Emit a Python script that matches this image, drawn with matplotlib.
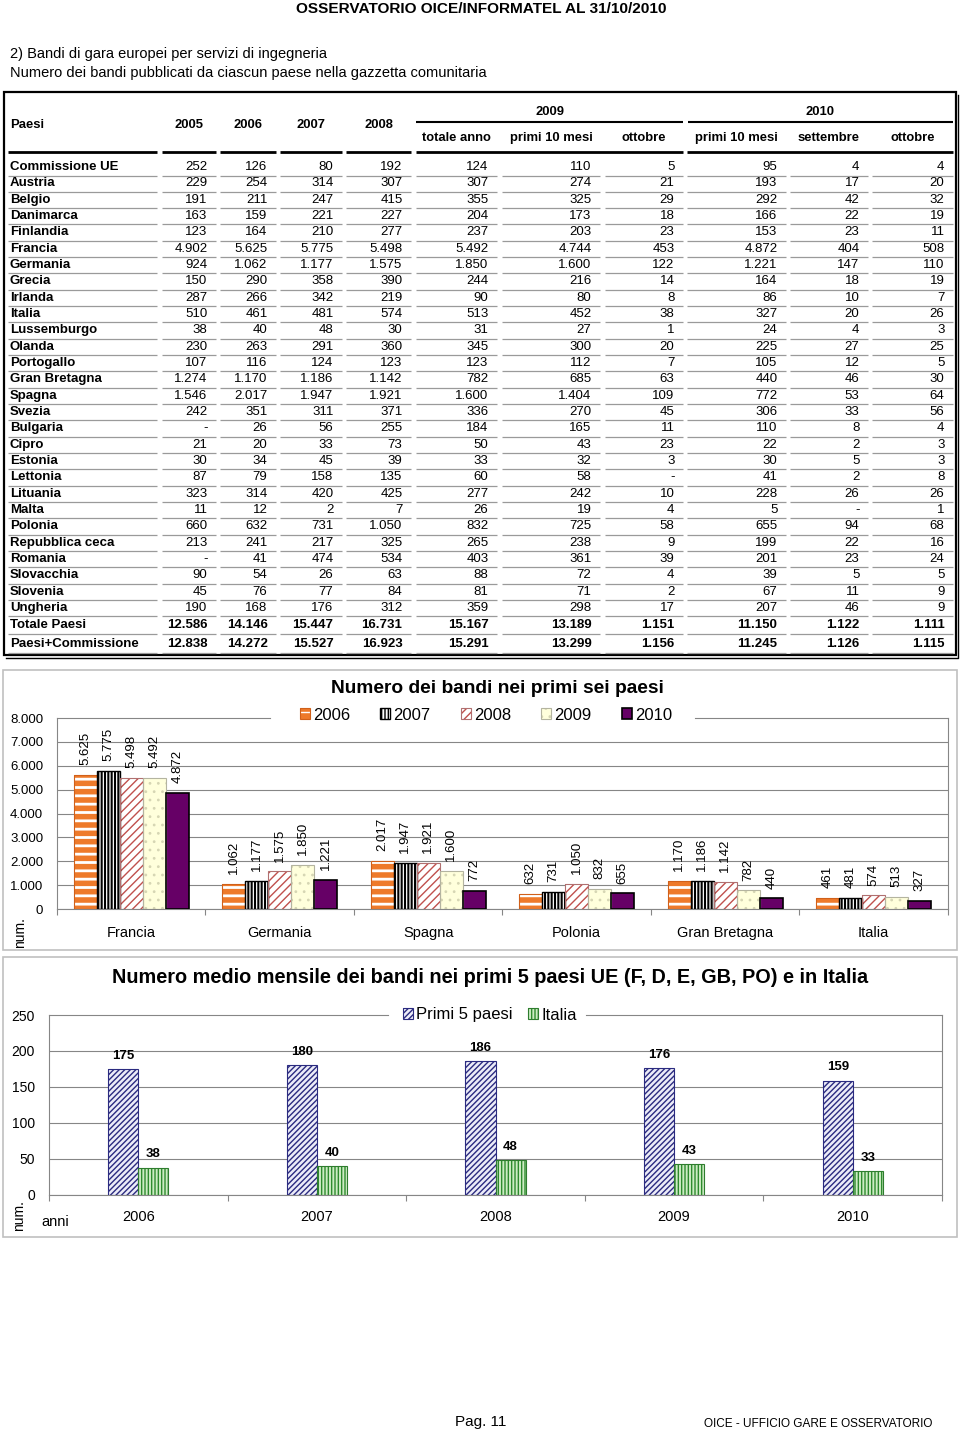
import matplotlib
matplotlib.use('Agg')
import matplotlib.pyplot as plt
from matplotlib import font_manager
from matplotlib.patches import Rectangle

# ------------------------------------------------------------------ data
paesi = ['Commissione UE', 'Austria', 'Belgio', 'Danimarca', 'Finlandia', 'Francia',
         'Germania', 'Grecia', 'Irlanda', 'Italia', 'Lussemburgo', 'Olanda', 'Portogallo',
         'Gran Bretagna', 'Spagna', 'Svezia', 'Bulgaria', 'Cipro', 'Estonia', 'Lettonia',
         'Lituania', 'Malta', 'Polonia', 'Repubblica ceca', 'Romania', 'Slovacchia',
         'Slovenia', 'Ungheria', 'Totale Paesi', 'Paesi+Commissione']
anni_tab = ['2005', '2006', '2007', '2008']
sub_2009 = ['totale anno', 'primi 10 mesi', 'ottobre']
sub_2010 = ['primi 10 mesi', 'settembre', 'ottobre']

v2005 = ['252', '229', '191', '163', '123', '4.902', '924', '150', '287', '510', '38', '230', '107',
         '1.274', '1.546', '242', '-', '21', '30', '87', '323', '11', '660', '213', '-', '90', '45',
         '190', '12.586', '12.838']
v2006 = ['126', '254', '211', '159', '164', '5.625', '1.062', '290', '266', '461', '40', '263', '116',
         '1.170', '2.017', '351', '26', '20', '34', '79', '314', '12', '632', '241', '41', '54', '76',
         '168', '14.146', '14.272']
v2007 = ['80', '314', '247', '221', '210', '5.775', '1.177', '358', '342', '481', '48', '291', '124',
         '1.186', '1.947', '311', '56', '33', '45', '158', '420', '2', '731', '217', '474', '26', '77',
         '176', '15.447', '15.527']
v2008 = ['192', '307', '415', '227', '277', '5.498', '1.575', '390', '219', '574', '30', '360', '123',
         '1.142', '1.921', '371', '255', '73', '39', '135', '425', '7', '1.050', '325', '534', '63', '84',
         '312', '16.731', '16.923']
v2009_tot = ['124', '307', '355', '204', '237', '5.492', '1.850', '244', '90', '513', '31', '345', '123',
             '782', '1.600', '336', '184', '50', '33', '60', '277', '26', '832', '265', '403', '88', '81',
             '359', '15.167', '15.291']
v2009_p10 = ['110', '274', '325', '173', '203', '4.744', '1.600', '216', '80', '452', '27', '300', '112',
             '685', '1.404', '270', '165', '43', '32', '58', '242', '19', '725', '238', '361', '72', '71',
             '298', '13.189', '13.299']
v2009_ott = ['5', '21', '29', '18', '23', '453', '122', '14', '8', '38', '1', '20', '7',
             '63', '109', '45', '11', '23', '3', '-', '10', '4', '58', '9', '39', '4', '2',
             '17', '1.151', '1.156']
v2010_p10 = ['95', '193', '292', '166', '153', '4.872', '1.221', '164', '86', '327', '24', '225', '105',
             '440', '772', '306', '110', '22', '30', '41', '228', '5', '655', '199', '201', '39', '67',
             '207', '11.150', '11.245']
v2010_set = ['4', '17', '42', '22', '23', '404', '147', '18', '10', '20', '4', '27', '12',
             '46', '53', '33', '8', '2', '5', '2', '26', '-', '94', '22', '23', '5', '11',
             '46', '1.122', '1.126']
v2010_ott = ['4', '20', '32', '19', '11', '508', '110', '19', '7', '26', '3', '25', '5',
             '30', '64', '56', '4', '3', '3', '8', '26', '1', '68', '16', '24', '5', '9',
             '9', '1.111', '1.115']

# chart 1
paesi6 = ['Francia', 'Germania', 'Spagna', 'Polonia', 'Gran Bretagna', 'Italia']
serie6 = ['2006', '2007', '2008', '2009', '2010']
b2006 = [5625, 1062, 2017, 632, 1170, 461]
b2007 = [5775, 1177, 1947, 731, 1186, 481]
b2008 = [5498, 1575, 1921, 1050, 1142, 574]
b2009 = [5492, 1850, 1600, 832, 782, 513]
b2010 = [4872, 1221, 772, 655, 440, 327]

# chart 2
anni5 = ['2006', '2007', '2008', '2009', '2010']
primi5 = [175, 180, 186, 176, 159]
italia = [38, 40, 48, 43, 33]

# ------------------------------------------------------------------ fonts
def has_font(name):
    try:
        font_manager.findfont(font_manager.FontProperties(family=name), fallback_to_default=False)
        return True
    except Exception:
        return False

BASE = 'Liberation Sans'
NARROW = 'Liberation Sans Narrow' if has_font('Liberation Sans Narrow') else None
plt.rcParams['font.family'] = [BASE, 'DejaVu Sans']


def nfont(sz):
    if NARROW:
        return dict(family=[NARROW, BASE], fontsize=sz)
    return dict(family=[BASE], fontsize=sz * 0.82)


def it(v):
    return f"{v:,}".replace(",", ".")


W, H, DPI = 960, 1433, 100
fig = plt.figure(figsize=(W / DPI, H / DPI), dpi=DPI)
page = fig.add_axes([0, 0, 1, 1])
page.set_xlim(0, W)
page.set_ylim(H, 0)
page.axis('off')


def rect(x0, y0, x1, y1):
    return [x0 / W, 1 - y1 / H, (x1 - x0) / W, (y1 - y0) / H]


# ------------------------------------------------------------------ header texts
page.text(481, 9, 'OSSERVATORIO OICE/INFORMATEL AL 31/10/2010', ha='center', va='center',
          fontweight='bold', **nfont(13.5))
page.text(10, 54, '2) Bandi di gara europei per servizi di ingegneria', ha='left', va='center',
          **nfont(12.8))
page.text(10, 73, 'Numero dei bandi pubblicati da ciascun paese nella gazzetta comunitaria',
          ha='left', va='center', **nfont(12.8))

# ------------------------------------------------------------------ table
page.add_patch(Rectangle((3.5, 92), 952, 563, fill=False, lw=1.6, ec='black'))
page.plot([6, 957.5, 957.5], [657.5, 657.5, 95], color='black', lw=1.0)

cols = [(8, 157), (162, 216), (220, 276), (280, 342), (346, 411), (416, 497),
        (502, 600), (605, 683), (687, 786), (790, 868), (872, 953)]
columns = [v2005, v2006, v2007, v2008, v2009_tot, v2009_p10, v2009_ott,
           v2010_p10, v2010_set, v2010_ott]

hb = dict(fontweight='bold', **nfont(11.4))
page.text(10, 125, 'Paesi', ha='left', va='center', **hb)
for k, a in enumerate(anni_tab):
    c = cols[k + 1]
    page.text((c[0] + c[1]) / 2, 125, a, ha='center', va='center', **hb)
page.text(549.5, 112, '2009', ha='center', va='center', **hb)
page.text(820.5, 112, '2010', ha='center', va='center', **hb)
for k, s in enumerate(sub_2009):
    c = cols[k + 5]
    page.text((c[0] + c[1]) / 2, 138, s, ha='center', va='center', **hb)
for k, s in enumerate(sub_2010):
    c = cols[k + 8]
    page.text((c[0] + c[1]) / 2, 138, s, ha='center', va='center', **hb)
page.hlines([121.5, 121.5], [416, 688], [683, 953], color='black', lw=1.5)
hdr_segs = cols[:5] + [(416, 683), (687, 953)]
page.hlines([152] * len(hdr_segs), [s[0] for s in hdr_segs], [s[1] for s in hdr_segs],
            color='black', lw=2.0)

row_y = [167 + i * 16.33 for i in range(28)] + [625, 644]
for i, (name, y) in enumerate(zip(paesi, row_y)):
    bold = i >= 28
    page.text(10, y, name, ha='left', va='center', fontsize=9.5, fontweight='bold')
    for k, col in enumerate(columns):
        page.text(cols[k + 1][1] - 8.5, y, col[i], ha='right', va='center', fontsize=9.5,
                  fontweight='bold' if bold else 'normal')
    ys = y + 8.5
    page.hlines([ys] * len(cols), [c[0] for c in cols], [c[1] for c in cols],
                color='#9a9a9a', lw=0.9)

# ------------------------------------------------------------------ helpers for bars
def hatched(ax, x, h, w, face, hcolor, hatch, edge, lw, hlw):
    b1 = ax.bar(x, h, w, color=face, edgecolor=hcolor, linewidth=0, hatch=hatch, zorder=2)
    for p in b1:
        try:
            p.set_hatch_linewidth(hlw)
        except AttributeError:
            pass
    b2 = ax.bar(x, h, w, fill=False, edgecolor=edge, linewidth=lw, zorder=3)
    return (b1[0], b2[0])


GRID = '#868686'

# ------------------------------------------------------------------ chart 1
page.add_patch(Rectangle((3, 670), 954, 280, fill=False, ec='#c0c0c0', lw=1.2))
page.text(497, 688, 'Numero dei bandi nei primi sei paesi', ha='center', va='center',
          fontsize=13.8, fontweight='bold')
page.text(20, 933, 'num.', rotation=90, ha='center', va='center', fontsize=10)

ax1 = fig.add_axes(rect(57, 718, 948, 909))
ax1.set_xlim(0, 6)
ax1.set_ylim(0, 8000)
bw = 0.155
styles1 = [
    dict(face='#EE7A2A', hcolor='white', hatch='--', edge='#D0601A', lw=0.8, hlw=2.0),
    dict(face='white', hcolor='black', hatch='|||||', edge='black', lw=1.0, hlw=1.5),
    dict(face='white', hcolor='#C0504D', hatch='////', edge='#B07070', lw=0.8, hlw=1.0),
    dict(face='#FFFFDC', hcolor='#D6D6B4', hatch='..', edge='#B4B4A0', lw=0.8, hlw=0.8),
    dict(face='#660066', hcolor='#660066', hatch=None, edge='black', lw=1.2, hlw=1.0),
]
handles1 = []
for k, vals in enumerate([b2006, b2007, b2008, b2009, b2010]):
    xs = [i + 0.5 + (k - 2) * bw for i in range(len(paesi6))]
    handles1.append(hatched(ax1, xs, vals, bw, **styles1[k]))
    for x, v in zip(xs, vals):
        ax1.annotate(it(v), (x, v), xytext=(0, 7), textcoords='offset points', rotation=90,
                     ha='center', va='bottom', fontsize=9.5)

ax1.set_yticks(range(0, 8001, 1000))
ax1.set_yticklabels([it(v) for v in range(0, 8001, 1000)])
ax1.set_xticks(range(0, 7))
ax1.set_xticklabels([])
ax1.set_xticks([i + 0.5 for i in range(6)], minor=True)
ax1.set_xticklabels(paesi6, minor=True)
ax1.tick_params(axis='y', length=0, pad=10, labelsize=9.5)
ax1.tick_params(axis='x', which='major', length=4, color=GRID)
ax1.tick_params(axis='x', which='minor', length=0, pad=12, labelsize=10.5)
ax1.yaxis.grid(True, color=GRID, lw=0.8)
ax1.set_axisbelow(True)
ax1.yaxis.get_gridlines()[-1].set_visible(False)
for seg in [(0, (270 - 57) / 891), ((695 - 57) / 891, 1)]:
    ax1.plot(seg, [8000, 8000], color=GRID, lw=0.8, transform=ax1.get_yaxis_transform(),
             clip_on=False)
ax1.spines['top'].set_visible(False)
for s in ['left', 'right', 'bottom']:
    ax1.spines[s].set_color(GRID)
    ax1.spines[s].set_linewidth(0.8)
ax1.legend(handles1, serie6, loc='center', bbox_to_anchor=(486 / W, 1 - 715 / H),
           bbox_transform=fig.transFigure, ncol=5, frameon=False, fontsize=12,
           handlelength=0.6, handleheight=0.6, handletextpad=0.2, columnspacing=1.8,
           borderpad=0)

# ------------------------------------------------------------------ chart 2
page.add_patch(Rectangle((3, 957), 954, 280, fill=False, ec='#c0c0c0', lw=1.2))
page.text(490, 977, 'Numero medio mensile dei bandi nei primi 5 paesi UE (F, D, E, GB, PO) e in Italia',
          ha='center', va='center', fontsize=14.3, fontweight='bold')
page.text(19, 1216, 'num.', rotation=90, ha='center', va='center', fontsize=10)
page.text(41, 1222, 'anni', ha='left', va='center', fontsize=10.5)

ax2 = fig.add_axes(rect(49, 1015, 942, 1195))
ax2.set_xlim(0, 5)
ax2.set_ylim(0, 250)
bw2 = 0.168
x_p = [i + 0.5 - bw2 / 2 for i in range(len(anni5))]
x_i = [i + 0.5 + bw2 / 2 for i in range(len(anni5))]
h_p = hatched(ax2, x_p, primi5, bw2, face='#ECECF8', hcolor='#2B2B80', hatch='//////',
              edge='#2B2B80', lw=0.8, hlw=1.0)
h_i = hatched(ax2, x_i, italia, bw2, face='#CDEBC4', hcolor='#2E8B2E', hatch='|||||',
              edge='#2E7D2E', lw=0.8, hlw=1.0)
for xs, vals in [(x_p, primi5), (x_i, italia)]:
    for x, v in zip(xs, vals):
        ax2.annotate(str(v), (x, v), xytext=(0, 9.5), textcoords='offset points',
                     ha='center', va='center', fontsize=9.5, fontweight='bold')

ax2.set_yticks(range(0, 251, 50))
ax2.set_xticks(range(0, 6))
ax2.set_xticklabels([])
ax2.set_xticks([i + 0.5 for i in range(5)], minor=True)
ax2.set_xticklabels(anni5, minor=True)
ax2.tick_params(axis='y', length=0, pad=10, labelsize=10)
ax2.tick_params(axis='x', which='major', length=4, color=GRID)
ax2.tick_params(axis='x', which='minor', length=0, pad=11, labelsize=10.5)
ax2.yaxis.grid(True, color=GRID, lw=0.8)
ax2.set_axisbelow(True)
ax2.yaxis.get_gridlines()[-1].set_visible(False)
for seg in [(0, (388 - 49) / 893), ((586 - 49) / 893, 1)]:
    ax2.plot(seg, [250, 250], color=GRID, lw=0.8, transform=ax2.get_yaxis_transform(),
             clip_on=False)
ax2.spines['top'].set_visible(False)
for s in ['left', 'right', 'bottom']:
    ax2.spines[s].set_color(GRID)
    ax2.spines[s].set_linewidth(0.8)
ax2.legend([h_p, h_i], ['Primi 5 paesi', 'Italia'], loc='center',
           bbox_to_anchor=(490 / W, 1 - 1015 / H), bbox_transform=fig.transFigure, ncol=2,
           frameon=False, fontsize=12, handlelength=0.6, handleheight=0.6,
           handletextpad=0.2, columnspacing=0.9, borderpad=0)

# ------------------------------------------------------------------ footer
page.text(455, 1422, 'Pag. 11', ha='left', va='center', fontsize=11)
page.text(704, 1424, 'OICE - UFFICIO GARE E OSSERVATORIO', ha='left', va='center', fontsize=8.5)

fig.savefig('out.png', dpi=DPI)
